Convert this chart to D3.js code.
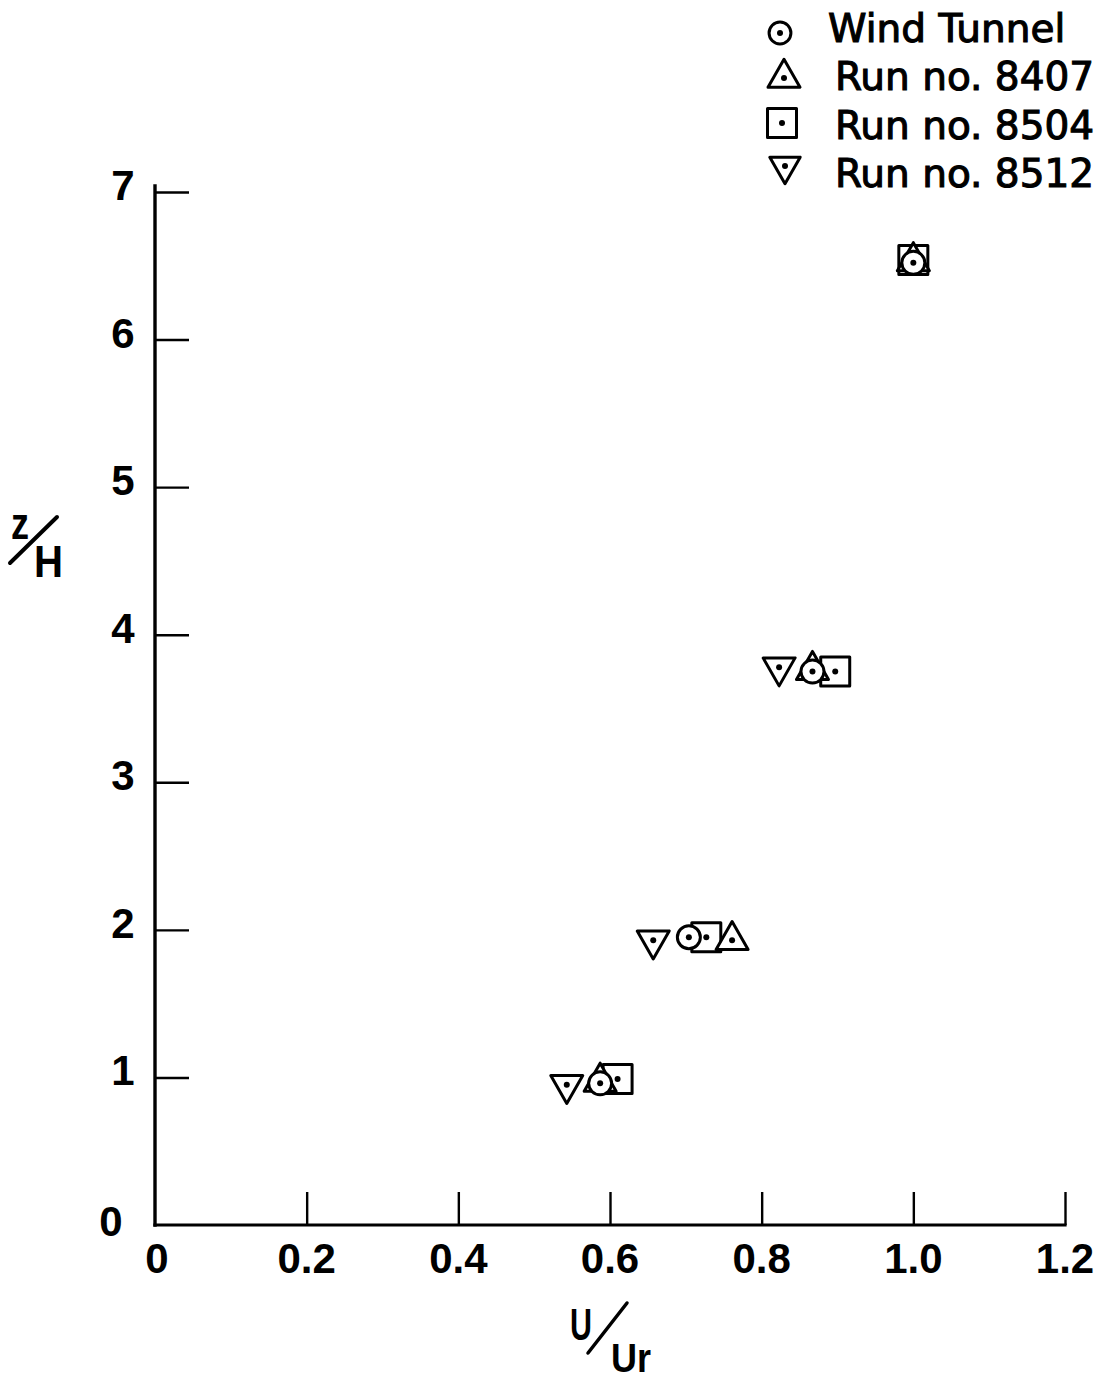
<!DOCTYPE html>
<html>
<head>
<meta charset="utf-8">
<script src="https://cdn.jsdelivr.net/npm/d3@7"></script>
<style>
  html, body { margin: 0; padding: 0; background: #fff; }
  svg { display: block; }
</style>
</head>
<body>
<script>
// Velocity profile: normalised height z/H versus normalised speed U/Ur
const xTickValues = [0, 0.2, 0.4, 0.6, 0.8, 1.0, 1.2];
const xTickLabels = ["0", "0.2", "0.4", "0.6", "0.8", "1.0", "1.2"];
const yTickValues = [0, 1, 2, 3, 4, 5, 6, 7];
const yTickLabels = ["0", "1", "2", "3", "4", "5", "6", "7"];

const seriesNames = ["Wind Tunnel", "Run no. 8407", "Run no. 8504", "Run no. 8512"];
const seriesShapes = ["circle", "triangle", "square", "invTriangle"];

const windTunnelU = [0.587, 0.704, 0.867, 1.000];
const windTunnelZ = [0.96, 1.95, 3.75, 6.52];
const run8407U = [0.587, 0.761, 0.867, 1.000];
const run8407Z = [0.97, 1.93, 3.76, 6.53];
const run8504U = [0.610, 0.727, 0.897, 1.000];
const run8504Z = [0.99, 1.95, 3.75, 6.54];
const run8512U = [0.543, 0.657, 0.823];
const run8512Z = [0.95, 1.93, 3.78];

const W = 1113, H = 1380;
const svg = d3.select("body").append("svg")
  .attr("width", W).attr("height", H)
  .attr("viewBox", `0 0 ${W} ${H}`);

const x = d3.scaleLinear().domain([0, 1.2]).range([155, 1065]);
const y = d3.scaleLinear().domain([0, 7]).range([1225, 192]);

const ink = "#000";
const tickFont = "'Liberation Sans', Arial, sans-serif";
const textFont = "'DejaVu Sans', sans-serif";

// marker outlines, centred on the data point
function shapePath(kind, s) {
  const k = s || 1;
  if (kind === "square") {
    const h = 14.5 * k;
    return `M${-h},${-h}H${h}V${h}H${-h}Z`;
  }
  if (kind === "triangle") {
    const hw = 16 * k, top = -18.7 * k, base = 9.3 * k;
    return `M0,${top}L${hw},${base}L${-hw},${base}Z`;
  }
  if (kind === "invTriangle") {
    const hw = 16 * k, bot = 18.7 * k, top = -9.3 * k;
    return `M0,${bot}L${hw},${top}L${-hw},${top}Z`;
  }
  return null;
}

function drawMarker(g, kind, cx, cy, scale) {
  const m = g.append("g").attr("transform", `translate(${cx},${cy})`);
  if (kind === "circle") {
    m.append("circle").attr("r", 11.5 * (scale || 1))
      .attr("fill", "#fff").attr("stroke", ink).attr("stroke-width", 3);
  } else {
    m.append("path").attr("d", shapePath(kind, scale))
      .attr("fill", "#fff").attr("stroke", ink).attr("stroke-width", 3)
      .attr("stroke-linejoin", "round");
  }
  m.append("circle").attr("r", 3).attr("fill", ink);
}

// ---- axes ----
const xAxis = d3.axisBottom(x)
  .tickValues(xTickValues.slice(1))
  .tickSizeInner(-33).tickSizeOuter(0)
  .tickFormat("");
const gx = svg.append("g").attr("transform", `translate(0,${y(0)})`).call(xAxis);
gx.select(".domain").remove();
gx.selectAll(".tick line").attr("stroke", ink).attr("stroke-width", 2.4);

const yAxis = d3.axisLeft(y)
  .tickValues(yTickValues.slice(1))
  .tickSizeInner(-34).tickSizeOuter(0)
  .tickFormat("");
const gy = svg.append("g").attr("transform", `translate(${x(0)},0)`).call(yAxis);
gy.select(".domain").remove();
gy.selectAll(".tick line").attr("stroke", ink).attr("stroke-width", 2.4);

// axis lines
svg.append("line")
  .attr("x1", x(0)).attr("y1", y(0)).attr("x2", x(1.2)).attr("y2", y(0))
  .attr("stroke", ink).attr("stroke-width", 3.2).attr("stroke-linecap", "square");
svg.append("line")
  .attr("x1", x(0)).attr("y1", y(0)).attr("x2", x(0)).attr("y2", y(7) - 6)
  .attr("stroke", ink).attr("stroke-width", 3.4).attr("stroke-linecap", "square");

// tick labels
svg.append("g").selectAll("text")
  .data(xTickValues)
  .join("text")
  .attr("x", d => x(d) + (d === 0 ? 2 : 0))
  .attr("y", y(0) + 48)
  .attr("text-anchor", "middle")
  .attr("font-family", tickFont)
  .attr("font-weight", "bold")
  .attr("font-size", 42)
  .attr("fill", ink)
  .text((d, i) => xTickLabels[i]);

svg.append("g").selectAll("text")
  .data(yTickValues)
  .join("text")
  .attr("x", d => d === 0 ? 111 : 123)
  .attr("y", d => y(d) + (d === 0 ? 11 : 8))
  .attr("text-anchor", "middle")
  .attr("font-family", tickFont)
  .attr("font-weight", "bold")
  .attr("font-size", 42)
  .attr("fill", ink)
  .text((d, i) => yTickLabels[i]);

// axis titles: z/H and U/Ur written as stacked fractions
const yt = svg.append("g");
yt.append("text").attr("x", 11).attr("y", 539)
  .attr("font-family", tickFont).attr("font-weight", "bold")
  .attr("font-size", 44).attr("fill", ink)
  .attr("textLength", 18).attr("lengthAdjust", "spacingAndGlyphs")
  .text("z");
yt.append("line").attr("x1", 10).attr("y1", 563).attr("x2", 57).attr("y2", 517)
  .attr("stroke", ink).attr("stroke-width", 4).attr("stroke-linecap", "round");
yt.append("text").attr("x", 34).attr("y", 577)
  .attr("font-family", tickFont).attr("font-weight", "bold")
  .attr("font-size", 45).attr("fill", ink)
  .attr("textLength", 29).attr("lengthAdjust", "spacingAndGlyphs")
  .text("H");

const xt = svg.append("g");
xt.append("text").attr("x", 570).attr("y", 1340)
  .attr("font-family", tickFont).attr("font-weight", "bold").attr("font-size", 45)
  .attr("textLength", 22).attr("lengthAdjust", "spacingAndGlyphs")
  .attr("fill", ink).text("U");
xt.append("line").attr("x1", 588).attr("y1", 1353).attr("x2", 627).attr("y2", 1303)
  .attr("stroke", ink).attr("stroke-width", 3.5).attr("stroke-linecap", "round");
xt.append("text").attr("x", 611).attr("y", 1372)
  .attr("font-family", tickFont).attr("font-weight", "bold").attr("font-size", 40)
  .attr("textLength", 40).attr("lengthAdjust", "spacingAndGlyphs")
  .attr("fill", ink).text("Ur");

// ---- data markers (square, then up-triangle, then circle, then down-triangle) ----
const plot = svg.append("g");
const layers = [
  { kind: "square", u: run8504U, z: run8504Z },
  { kind: "triangle", u: run8407U, z: run8407Z },
  { kind: "circle", u: windTunnelU, z: windTunnelZ },
  { kind: "invTriangle", u: run8512U, z: run8512Z }
];
layers.forEach(L => {
  L.u.forEach((u, i) => drawMarker(plot, L.kind, x(u), y(L.z[i]), 1));
});

// ---- legend ----
const legend = svg.append("g");
const legendSym = [
  { cx: 780, cy: 33, s: 0.95 },
  { cx: 784, cy: 78, s: 1.0 },
  { cx: 782, cy: 123, s: 1.0 },
  { cx: 785, cy: 166, s: 0.95 }
];
const legendBase = [42, 90, 139, 187];
const legendX = [828, 835, 835, 835];
seriesNames.forEach((name, i) => {
  drawMarker(legend, seriesShapes[i], legendSym[i].cx, legendSym[i].cy, legendSym[i].s);
  legend.append("text")
    .attr("x", legendX[i]).attr("y", legendBase[i])
    .attr("font-family", textFont).attr("font-size", 39)
    .attr("fill", ink).attr("stroke", ink).attr("stroke-width", 1.1)
    .text(name);
});
</script>
</body>
</html>
